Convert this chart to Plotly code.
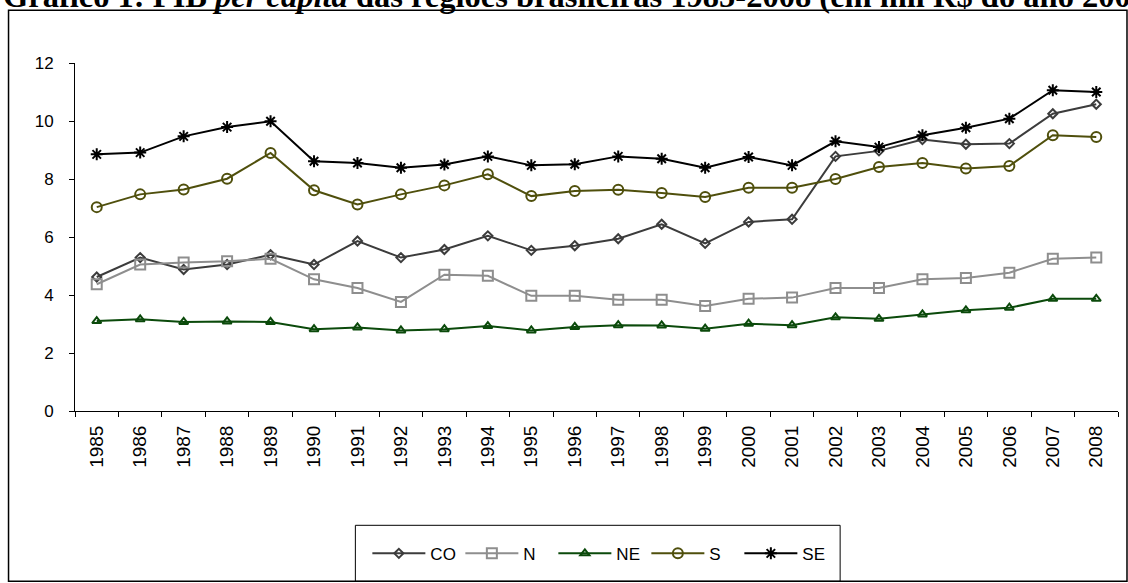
import plotly.graph_objects as go

# PIB per capita by Brazilian region, thousand R$ (year-2000 prices)
years = [str(y) for y in range(1985, 2009)]
co = [4.62, 5.29, 4.88, 5.05, 5.39, 5.05, 5.86, 5.29, 5.57, 6.04, 5.54, 5.70,
      5.94, 6.44, 5.78, 6.52, 6.61, 8.78, 8.97, 9.36, 9.20, 9.22, 10.25, 10.58]
n = [4.37, 5.05, 5.12, 5.16, 5.25, 4.54, 4.24, 3.76, 4.70, 4.66, 3.97, 3.97,
     3.84, 3.84, 3.62, 3.87, 3.91, 4.24, 4.24, 4.54, 4.59, 4.77, 5.25, 5.29]
ne = [3.10, 3.16, 3.07, 3.09, 3.07, 2.82, 2.88, 2.78, 2.82, 2.93, 2.78, 2.90,
      2.96, 2.95, 2.84, 3.01, 2.96, 3.23, 3.18, 3.33, 3.47, 3.56, 3.87, 3.87]
s = [7.03, 7.47, 7.64, 8.01, 8.90, 7.61, 7.12, 7.47, 7.78, 8.16, 7.41, 7.59,
     7.63, 7.52, 7.38, 7.70, 7.70, 8.00, 8.41, 8.55, 8.36, 8.45, 9.51, 9.45]
se = [8.85, 8.91, 9.47, 9.79, 9.99, 8.61, 8.55, 8.39, 8.50, 8.78, 8.47, 8.51,
      8.78, 8.70, 8.39, 8.76, 8.47, 9.30, 9.10, 9.51, 9.77, 10.08, 11.06, 11.00]
y_ticks = [0, 2, 4, 6, 8, 10, 12]

W, H = 1128, 583
ML, MR, MT, MB = 74.5, 10, 62.7, 172.3
PW, PH = W - ML - MR, H - MT - MB


def px(x):
    return (x - ML) / PW


def py(y):
    return (H - MB - y) / PH


series = [
    ("CO", co, "#3c3c3c", "diamond-open", 7),
    ("N", n, "#8e8e8e", "square-open", 10),
    ("NE", ne, "#0b4a0b", "triangle-up-open", 8),
    ("S", s, "#4f4f0c", "circle-open", 10),
    ("SE", se, "#000000", "asterisk-open", 10),
]

fig = go.Figure()
for name, vals, color, symbol, size in series:
    fig.add_trace(go.Scatter(
        x=years, y=vals, name=name, mode="lines+markers",
        line=dict(color=color, width=2),
        marker=dict(symbol=symbol, size=size, color=color,
                    line=dict(color=color, width=2)),
    ))

axis_font = dict(family="Liberation Sans", size=17, color="#000000")

fig.update_layout(
    width=W, height=H,
    margin=dict(l=ML, r=MR, t=MT, b=MB, pad=0),
    paper_bgcolor="#ffffff", plot_bgcolor="#ffffff",
    showlegend=True,
    legend=dict(
        orientation="h", x=px(367), xanchor="left", y=py(553.5), yanchor="middle",
        font=dict(family="Liberation Sans", size=17, color="#000000"),
        bgcolor="rgba(0,0,0,0)", borderwidth=0, itemwidth=53,
        entrywidth=25, entrywidthmode="pixels",
        traceorder="normal",
    ),
    xaxis=dict(
        type="category", range=[-0.5, 23.5], tickson="boundaries",
        ticks="outside", ticklen=5, tickcolor="#000000", tickwidth=1,
        showline=True, linecolor="#000000", linewidth=1,
        showgrid=False, zeroline=False, tickangle=-90,
        tickfont=dict(family="Liberation Sans", size=19, color="#000000"),
        ticklabelstandoff=6,
    ),
    yaxis=dict(
        range=[0, 12], tickvals=y_ticks, ticks="outside", ticklen=5,
        tickcolor="#000000", tickwidth=1,
        showline=True, linecolor="#000000", linewidth=1,
        showgrid=False, zeroline=False, tickfont=axis_font,
        ticklabelstandoff=12,
    ),
    shapes=[
        # outer chart frame
        dict(type="rect", xref="paper", yref="paper",
             x0=px(8), x1=px(1127), y0=py(581), y1=py(10),
             line=dict(color="#000000", width=1.5), layer="below"),
        # legend box
        dict(type="rect", xref="paper", yref="paper",
             x0=px(355), x1=px(840), y0=py(581), y1=py(525),
             line=dict(color="#000000", width=1), layer="below"),
    ],
    annotations=[
        dict(text="Gráfico 1: PIB <i>per capita</i> das regiões brasileiras 1985-2008 (em mil R$ do ano 2000)",
             xref="paper", yref="paper", x=px(0), y=py(-4),
             xanchor="left", yanchor="middle", showarrow=False,
             font=dict(family="Liberation Serif", size=32.5, color="#000000", weight="bold")),
    ],
)

fig.write_html("out.html")
